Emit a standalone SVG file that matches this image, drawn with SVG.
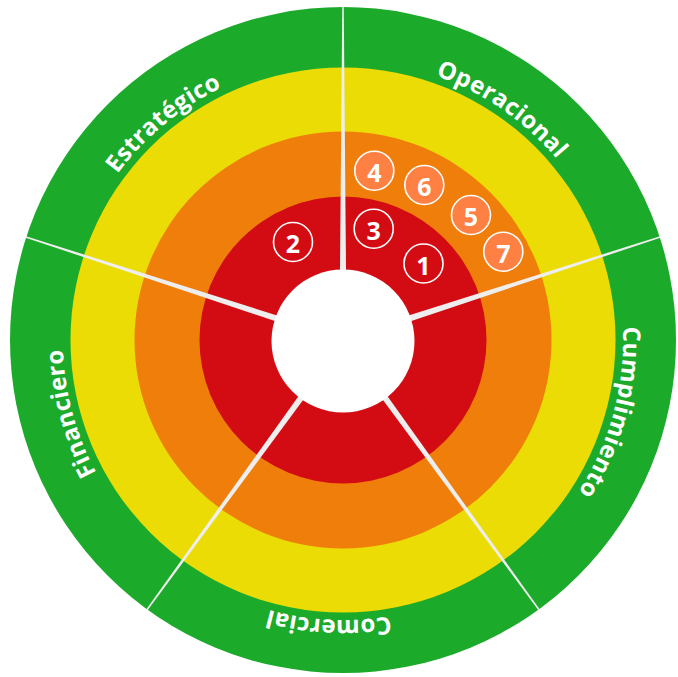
<svg xmlns="http://www.w3.org/2000/svg" xmlns:xlink="http://www.w3.org/1999/xlink" width="678" height="677" viewBox="0 0 678 677">
  <style>
    .lbl { font-family: "Open Sans", "Liberation Sans", sans-serif; font-weight: 700; font-size: 24px; fill: #ffffff; letter-spacing: 0.3px; }
    .num { font-family: "Open Sans", "Liberation Sans", sans-serif; font-weight: 700; font-size: 25px; fill: #ffffff; text-anchor: middle; dominant-baseline: central; }
    .badge { stroke: #ffffff; stroke-width: 1.6; }
    .inred { fill: #d30c13; }
    .inorange { fill: #ff8043; }
    .divider { fill: #eeeeee; }
  </style>
  <defs>
    <polygon id="div" points="339.4,340 346.6,340 343.75,6.5 342.25,6.5"/>
    <path id="ring" d="M 343,60 A 280,280 0 1 1 343,620 A 280,280 0 1 1 343,60"/>
  </defs>
  <rect width="678" height="677" fill="#ffffff"/>
  <g id="rings">
    <circle cx="343" cy="340" r="333" fill="#1caa2a"/>
    <circle cx="343" cy="340" r="272.5" fill="#ecdc06"/>
    <circle cx="343" cy="340" r="208.5" fill="#ef7e0b"/>
    <circle cx="343" cy="340" r="143.5" fill="#d30c13"/>
  </g>
  <g id="connectors" class="divider">
    <use xlink:href="#div"/>
    <use xlink:href="#div" transform="rotate(72 343 340)"/>
    <use xlink:href="#div" transform="rotate(144 343 340)"/>
    <use xlink:href="#div" transform="rotate(216 343 340)"/>
    <use xlink:href="#div" transform="rotate(288 343 340)"/>
  </g>
  <g id="hub">
    <circle cx="343" cy="341" r="71.5" fill="#ffffff"/>
  </g>
  <g id="labels">
    <text id="operacional" class="lbl"><textPath xlink:href="#ring" startOffset="9.6%" text-anchor="middle">Operacional</textPath></text>
    <text id="cumplimiento" class="lbl"><textPath xlink:href="#ring" startOffset="29.2%" text-anchor="middle">Cumplimiento</textPath></text>
    <text id="comercial" class="lbl"><textPath xlink:href="#ring" startOffset="50.8%" text-anchor="middle">Comercial</textPath></text>
    <text id="financiero" class="lbl"><textPath xlink:href="#ring" startOffset="70.8%" text-anchor="middle">Financiero</textPath></text>
    <text id="estrategico" class="lbl"><textPath xlink:href="#ring" startOffset="89%" text-anchor="middle">Estratégico</textPath></text>
  </g>
  <g id="n1"><circle class="badge inred" cx="423.5" cy="263.5" r="19.5"/><text class="num" x="423.5" y="264.5">1</text></g>
  <g id="n2"><circle class="badge inred" cx="293" cy="242" r="19.5"/><text class="num" x="293" y="243">2</text></g>
  <g id="n3"><circle class="badge inred" cx="373.7" cy="228.7" r="19.5"/><text class="num" x="373.7" y="229.7">3</text></g>
  <g id="n4"><circle class="badge inorange" cx="374.3" cy="170.7" r="19.5"/><text class="num" x="374.3" y="171.7">4</text></g>
  <g id="n5"><circle class="badge inorange" cx="471" cy="215" r="19.5"/><text class="num" x="471" y="216">5</text></g>
  <g id="n6"><circle class="badge inorange" cx="424.3" cy="185" r="19.5"/><text class="num" x="424.3" y="186">6</text></g>
  <g id="n7"><circle class="badge inorange" cx="503.3" cy="251.7" r="19.5"/><text class="num" x="503.3" y="252.7">7</text></g>
</svg>
